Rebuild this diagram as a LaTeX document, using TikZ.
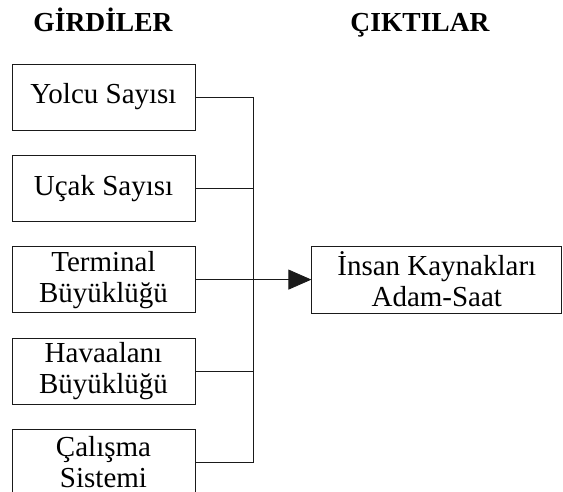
\documentclass[tikz,border=0pt]{standalone}
\usepackage{fontspec}
\setmainfont{Liberation Serif}
\usepackage{tikz}
\usetikzlibrary{positioning,arrows.meta}
\definecolor{ink}{HTML}{1A1A1A}
\tikzset{
  inb/.style={draw=ink, fill=white, line width=0.8pt, inner sep=1pt, align=center,
              font=\fontsize{29}{31}\selectfont, minimum height=66pt, minimum width=183pt},
  outb/.style={inb, minimum width=250pt, minimum height=67pt},
  ttl/.style={font=\fontsize{27.5}{32}\selectfont\bfseries, anchor=base},
  ln/.style={line width=0.8pt, color=ink},
  ar/.style={ln, -{Triangle[length=23pt, width=20pt]}},
}

\begin{document}
\begin{tikzpicture}[x=1pt, y=1pt]
\useasboundingbox (0,0) rectangle (563,-492);
% titles
\node[ttl] (girdi) at (103,-32) {GİRDİLER};
\node[ttl] (cikti) at (420,-32) {ÇIKTILAR};

% inputs
\node[inb] (yolcu) at (103.5,-97) {Yolcu Sayısı};
\node[inb] (ucak) [below=24.5pt of yolcu] {Uçak Sayısı};
\node[inb] (term) [below=24.5pt of ucak] {Terminal\\Büyüklüğü};
\node[inb] (hava) [below=24.5pt of term] {Havaalanı\\Büyüklüğü};
\node[inb] (calis) [below=24.5pt of hava] {Çalışma\\Sistemi};

% output
\node[outb] (insan) [right=116pt of term] {İnsan Kaynakları\\Adam-Saat};

% bus
\coordinate (bus) at (253,0);
\draw[ln] (yolcu.east) -- (yolcu.east -| bus) -- (calis.east -| bus) -- (calis.east);
\draw[ln] (ucak.east) -- (ucak.east -| bus);
\draw[ln] (hava.east) -- (hava.east -| bus);
\draw[ar] (term.east) -- (insan.west);
\end{tikzpicture}
\end{document}
